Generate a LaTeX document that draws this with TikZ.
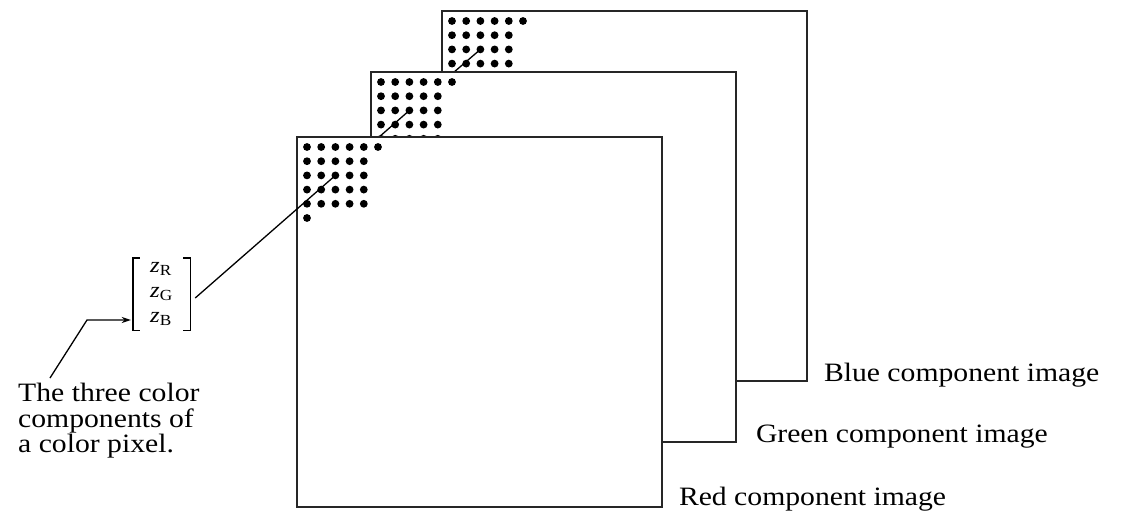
\documentclass[tikz,border=0pt]{standalone}
\usepackage{fontspec}
\setmainfont{Liberation Serif}
\newfontfamily\widefont[FakeStretch=1.12]{Liberation Serif}
\usetikzlibrary{arrows.meta}

\tikzset{
  plane/.style={draw=black!85, fill=white, line width=1.8pt, minimum width=365pt,
    minimum height=370pt, inner sep=0pt, anchor=north west},
  planetext/.style={anchor=base west, inner sep=0pt, font=\widefont\fontsize{26.5}{25.5}\selectfont},
  pixline/.style={line width=1.3pt}
}

% dots of one component image: #1 = upper left corner
\newcommand{\pixelgrid}[1]{%
  \foreach \r in {0,...,4}
    \foreach \c in {0,...,4}
      \fill ([shift={(11+14.2*\c,11+14.2*\r)}]#1) circle (3.9pt);
  \fill ([shift={(11+14.2*5,11)}]#1) circle (3.9pt);
  \fill ([shift={(11,11+14.2*5)}]#1) circle (3.9pt);
}

\begin{document}
\begin{tikzpicture}[x=1pt,y=-1pt]
  \useasboundingbox (0,0) rectangle (1122,514);

  % upper left corners of the three images
  \coordinate (B) at (441,10);
  \coordinate (G) at (370,71);
  \coordinate (R) at (296,136);
  % the same pixel in each image
  \coordinate (bluepx) at ([shift={(39.4,39.4)}]B);
  \coordinate (greenpx) at ([shift={(39.4,39.4)}]G);
  \coordinate (redpx) at ([shift={(39.4,39.4)}]R);

  % Blue component image
  \node[plane] (blue) at (B) {};
  \pixelgrid{B}
  \draw[pixline] (bluepx) -- (greenpx);

  % Green component image
  \node[plane] (green) at (G) {};
  \pixelgrid{G}
  \draw[pixline] (greenpx) -- (redpx);

  % Red component image
  \node[plane] (red) at (R) {};
  \pixelgrid{R}

  % Labels
  \node[planetext] (bluetxt) at ([shift={(16,0)}]blue.south east) {Blue component image};
  \node[planetext] (greentxt) at ([shift={(19,0)}]green.south east) {Green component image};
  \node[planetext] (redtxt) at ([shift={(16,-2)}]red.south east) {Red component image};

  % Color vector of a pixel
  \node[minimum width=57pt, minimum height=72pt, inner sep=0pt, align=left,
    font=\widefont\fontsize{22}{25}\selectfont] (vec) at (161.5,294)
    {\textit{z}\textsubscript{R}\\ \textit{z}\textsubscript{G}\\ \textit{z}\textsubscript{B}};
  \draw[line width=1.4pt] ([xshift=7pt]vec.north west) -- (vec.north west)
    -- (vec.south west) -- ([xshift=7pt]vec.south west);
  \draw[line width=1.4pt] ([xshift=-7pt]vec.north east) -- (vec.north east)
    -- (vec.south east) -- ([xshift=-7pt]vec.south east);
  \draw[pixline] ([shift={(5,4)}]vec.east) -- (redpx);

  % Note with arrow
  \node[anchor=north west, inner sep=0pt, align=left, font=\widefont\fontsize{26.5}{25.5}\selectfont]
    (note) at (18,383) {The three color\\ components of\\ a color pixel.};
  \coordinate (bend) at (87,320);
  \draw[pixline, -{Stealth[length=9pt,width=6pt]}, shorten >=2pt]
    ([shift={(32,-5)}]note.north west) -- (bend) -- (bend -| vec.west);
\end{tikzpicture}
\end{document}
